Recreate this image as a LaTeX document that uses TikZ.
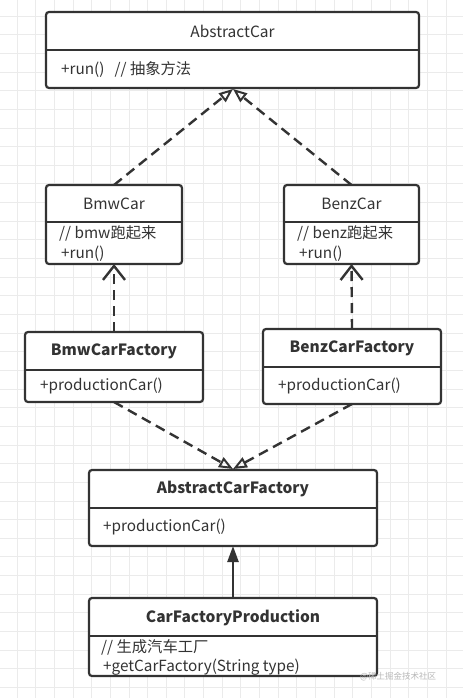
\documentclass[tikz,border=0pt]{standalone}
\usepackage{fontspec}
\setmainfont{Noto Sans CJK SC}
\usetikzlibrary{arrows.meta}
\definecolor{ink}{HTML}{333333}
\definecolor{gridc}{HTML}{EBEBEB}
\definecolor{wm}{HTML}{B8B8B8}
\tikzset{
  cls/.style={draw=ink, line width=2.2pt, rounded corners=3pt, fill=white, inner sep=0pt, outer sep=0pt},
  divline/.style={draw=ink, line width=2.2pt},
  ttl/.style={text=ink, font=\fontsize{15.5}{17}\selectfont, inner sep=0pt},
  bttl/.style={text=ink, font=\fontsize{15.5}{17}\selectfont\bfseries, inner sep=0pt},
  txt/.style={text=ink, font=\fontsize{15.3}{17}\selectfont, inner sep=0pt, anchor=west},
  realize/.style={draw=ink, line width=2.4pt, dash pattern=on 10pt off 6pt, -{Triangle[open, length=14pt, width=11pt, line width=2pt]}},
  depend/.style={draw=ink, line width=2.4pt, dash pattern=on 10pt off 6pt, -{Straight Barb[length=14pt, width=22pt, line width=2.4pt]}},
  assoc/.style={draw=ink, line width=2.4pt, -{Triangle[length=16pt, width=11pt]}},
  gridln/.style={draw=gridc, line width=0.8pt},
}
\begin{document}
\begin{tikzpicture}[x=1pt,y=1pt]
\useasboundingbox (0,0) rectangle (463,-698);
\fill[white] (0,0) rectangle (463,-698);
\foreach \i in {0,...,24} {\draw[gridln] ({17+\i*18.65},0) -- ({17+\i*18.65},-698);}
\foreach \j in {0,...,37} {\draw[gridln] (0,{-16-\j*18.65}) -- (463,{-16-\j*18.65});}

% AbstractCar
\node[cls, minimum width=373pt, minimum height=76pt] (ac) at (232.5,-50) {};
\draw[divline] (46,-50) -- (419,-50);
\node[ttl] (act) at (232.5,-31) {AbstractCar};
\node[txt] (acm) at (61,-70) {+run()\hspace{10pt}// 抽象方法};

% BmwCar
\node[cls, minimum width=136pt, minimum height=79pt] (bc) at (114,-224.5) {};
\draw[divline] (46,-222) -- (182,-222);
\node[ttl] (bct) at (114,-204) {BmwCar};
\node[txt] (bcm1) at (59,-233) {// bmw跑起来};
\node[txt] (bcm2) at (61,-254) {+run()};

% BenzCar
\node[cls, minimum width=135pt, minimum height=79pt] (zc) at (351.5,-224.5) {};
\draw[divline] (284,-222) -- (419,-222);
\node[ttl] (zct) at (351.5,-204) {BenzCar};
\node[txt] (zcm1) at (297,-233) {// benz跑起来};
\node[txt] (zcm2) at (299,-254) {+run()};

% BmwCarFactory
\node[cls, minimum width=178pt, minimum height=70pt] (bf) at (114,-367) {};
\draw[divline] (25,-370) -- (203,-370);
\node[bttl] (bft) at (114,-351) {BmwCarFactory};
\node[txt] (bfm) at (40,-386) {+productionCar()};

% BenzCarFactory
\node[cls, minimum width=178pt, minimum height=75pt] (zf) at (352,-366.5) {};
\draw[divline] (263,-367) -- (441,-367);
\node[bttl] (zft) at (352,-348) {BenzCarFactory};
\node[txt] (zfm) at (278,-386) {+productionCar()};

% AbstractCarFactory
\node[cls, minimum width=288pt, minimum height=76pt] (af) at (233,-508) {};
\draw[divline] (89,-508) -- (377,-508);
\node[bttl] (aft) at (233,-489) {AbstractCarFactory};
\node[txt] (afm) at (103,-527) {+productionCar()};

% CarFactoryProduction
\node[cls, minimum width=288pt, minimum height=78pt] (cp) at (233,-637) {};
\draw[divline] (89,-636) -- (377,-636);
\node[bttl] (cpt) at (233,-618) {CarFactoryProduction};
\node[txt] (cpm1) at (101,-647) {// 生成汽车工厂};
\node[txt] (cpm2) at (103,-667) {+getCarFactory(String type)};

% connectors
\coordinate (acb) at (233,-89);
\coordinate (aft0) at (233,-469);
\draw[realize] (bc.north) -- (acb);
\draw[realize] (zc.north) -- (acb);
\draw[depend] (bf.north) -- (bc.south);
\draw[depend] (zf.north) -- (zc.south);
\draw[realize] (bf.south) -- (aft0);
\draw[realize] (zf.south) -- (aft0);
\draw[assoc] (cp.north) -- (af.south);

\node[text=wm, font=\fontsize{8.5}{9}\selectfont, inner sep=0pt, anchor=west] (wmk) at (360,-677) {@稀土掘金技术社区};
\end{tikzpicture}
\end{document}
